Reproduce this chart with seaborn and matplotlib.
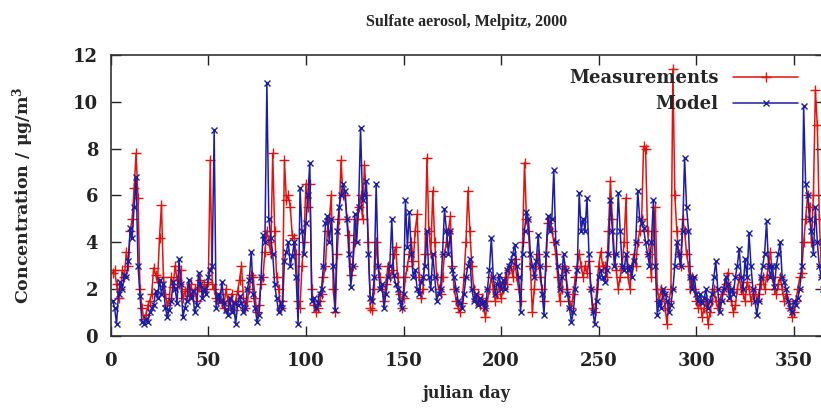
import numpy as np
import pandas as pd
import matplotlib
matplotlib.use("Agg")
import matplotlib.pyplot as plt
import seaborn as sns

days = list(range(1, 367))

measurements = [
    2.7, 2.8, 2.2, 1.6, 2.0, 2.8, 2.5, 3.6, 3.0, 4.5,
    5.0, 6.3, 7.8, 5.9, 2.0, 1.2, 0.7, 0.9, 1.3, 1.5,
    1.8, 2.9, 2.6, 2.3, 4.2, 5.6, 2.5, 1.8, 1.3, 1.6,
    2.5, 2.1, 3.0, 2.4, 2.2, 2.8, 1.6, 1.9, 2.0, 1.7,
    2.2, 1.8, 2.0, 1.5, 2.1, 2.4, 1.9, 2.2, 2.0, 2.3,
    7.5, 2.2, 2.0, 1.6, 1.5, 1.8, 1.4, 1.2, 2.0, 1.5,
    1.3, 1.8, 1.1, 1.5, 1.9, 2.4, 3.0, 1.6, 1.2, 1.5,
    2.0, 2.6, 2.5, 1.6, 1.0, 1.3, 2.2, 2.5, 3.6, 4.5,
    4.0, 3.5, 7.8, 4.5, 2.5, 2.0, 1.2, 1.5, 7.5, 5.8,
    6.0, 5.5, 4.3, 4.2, 3.5, 1.5, 1.2, 3.0, 4.0, 6.5,
    5.5, 6.5, 2.0, 1.3, 1.0, 1.2, 1.5, 1.8, 2.5, 3.0,
    4.5, 5.0, 6.0, 2.0, 1.0, 3.5, 5.0, 7.5, 6.0, 6.0,
    5.0, 4.3, 2.6, 3.0, 4.0, 5.0, 5.5, 6.0, 5.0, 7.3,
    6.0, 4.0, 1.2, 1.1, 2.0, 4.0, 3.0, 2.5, 2.0, 1.5,
    2.2, 3.0, 2.5, 2.8, 3.5, 3.8, 2.5, 1.8, 1.2, 1.6,
    2.5, 3.0, 3.5, 4.0, 3.2, 4.5, 5.2, 2.5, 1.6, 2.0,
    3.5, 7.6, 4.5, 3.5, 6.2, 4.0, 2.5, 2.0, 1.8, 2.5,
    3.5, 4.0, 4.5, 5.1, 3.0, 2.0, 1.5, 1.2, 1.0, 1.4,
    2.5, 4.0, 6.2, 4.5, 3.0, 2.0, 1.5, 1.8, 1.3, 1.6,
    1.2, 0.8, 1.5, 2.0, 2.5, 2.0, 1.5, 1.8, 2.2, 1.6,
    2.0, 2.5, 2.2, 2.8, 3.0, 2.5, 3.3, 2.5, 2.0, 1.5,
    4.0, 7.4, 5.0, 4.5, 3.0, 1.0, 2.0, 3.0, 3.5, 2.5,
    2.0, 1.5, 3.0, 4.8, 5.0, 4.5, 4.0, 3.5, 2.5, 1.5,
    2.0, 3.0, 2.8, 2.0, 1.5, 1.2, 1.8, 2.5, 3.0, 3.5,
    3.0, 2.5, 3.0, 2.7, 3.2, 2.0, 1.2, 1.0, 2.0, 3.0,
    3.6, 3.0, 3.0, 2.5, 4.5, 6.6, 5.0, 3.5, 2.8, 2.0,
    2.5, 3.0, 4.0, 5.9, 2.5, 2.0, 3.0, 3.5, 3.0, 4.0,
    4.5, 5.0, 8.1, 8.0, 4.5, 3.5, 2.5, 4.5, 5.5, 2.0,
    1.5, 2.0, 1.8, 1.2, 0.5, 1.5, 2.0, 11.4, 6.0, 4.5,
    3.5, 3.0, 5.0, 4.5, 3.5, 3.0, 2.0, 2.5, 2.0, 1.5,
    1.2, 1.5, 0.8, 1.2, 1.5, 0.5, 1.0, 1.5, 2.0, 1.5,
    1.2, 1.5, 1.8, 2.0, 2.2, 2.7, 2.0, 1.5, 1.0, 1.3,
    2.0, 2.5, 2.0, 1.8, 1.5, 2.3, 2.0, 1.5, 1.8, 2.0,
    1.5, 1.8, 2.2, 2.5, 2.0, 2.5, 3.0, 3.6, 2.5, 2.0,
    1.8, 2.2, 2.5, 2.0, 1.5, 1.8, 1.5, 1.2, 0.8, 1.0,
    1.5, 2.0, 2.5, 2.7, 4.0, 5.0, 6.0, 5.5, 4.0, 6.0,
    10.5, 9.0, 5.0, 3.0, 2.5, 2.0,
]

model = [
    1.5, 1.2, 0.5, 1.8, 2.3, 2.0, 2.6, 2.5, 3.2, 4.6,
    4.2, 5.5, 6.8, 3.0, 1.7, 0.6, 0.5, 0.7, 0.6, 1.0,
    1.2, 1.3, 1.9, 1.6, 2.4, 1.8, 2.2, 1.2, 0.8, 1.1,
    1.5, 2.3, 2.0, 1.4, 3.3, 2.2, 0.8, 1.2, 1.5, 2.4,
    1.6, 1.9, 1.0, 1.3, 2.7, 2.2, 1.6, 2.0, 1.8, 2.5,
    2.8, 3.0, 8.8, 1.2, 1.8, 1.5, 2.3, 1.4, 1.1, 0.9,
    1.6, 1.0, 1.4, 0.5, 1.3, 1.7, 1.4, 1.0, 1.2, 2.0,
    2.4, 3.6, 1.8, 1.2, 0.6, 0.9, 2.5, 4.3, 4.0, 10.8,
    5.0, 4.2, 3.5, 2.2, 1.6, 1.0, 1.4, 1.2, 3.2, 3.6,
    4.0, 3.0, 3.4, 4.0, 2.5, 0.5, 6.3, 4.5, 3.5, 4.8,
    6.0, 7.4, 1.5, 1.6, 1.2, 1.4, 1.8, 2.0, 3.0, 4.8,
    5.1, 4.0, 5.0, 3.0, 1.1, 4.5, 5.5, 6.0, 6.5, 6.2,
    5.0, 3.5, 2.1, 3.0, 5.2, 4.0, 5.5, 8.9, 5.8, 6.0,
    6.6, 3.5, 1.6, 1.5, 2.5, 6.5, 3.0, 2.0, 2.2, 1.2,
    1.8, 2.5, 3.0, 5.0, 2.6, 2.2, 2.0, 1.5, 1.2, 1.8,
    5.8, 3.8, 5.3, 3.5, 2.5, 2.8, 2.0, 1.8, 2.3, 2.5,
    3.0, 4.5, 2.5, 2.0, 3.5, 2.5, 1.5, 1.8, 2.0, 3.5,
    5.4, 4.5, 3.5, 4.5, 2.8, 2.5, 2.0, 1.5, 1.4, 1.2,
    1.8, 2.5, 3.0, 3.3, 2.0, 1.5, 1.8, 1.3, 1.6, 1.4,
    1.5, 1.2, 2.0, 2.8, 4.2, 2.5, 1.8, 2.2, 2.6, 2.0,
    2.4, 2.0, 2.8, 3.0, 3.2, 3.5, 3.9, 3.0, 2.5, 1.0,
    3.5, 4.5, 5.3, 5.0, 3.5, 3.0, 2.5, 3.2, 4.3, 3.0,
    1.8, 0.9, 3.5, 5.1, 4.5, 5.0, 7.1, 4.0, 3.0, 2.0,
    2.5, 3.5, 2.8, 1.8, 1.2, 0.6, 1.0, 2.0, 2.8, 6.1,
    4.5, 5.0, 4.5, 5.9, 3.5, 2.0, 1.0, 0.5, 1.5, 2.5,
    2.8, 2.5, 2.3, 2.8, 3.5, 5.8, 4.5, 3.0, 3.5, 6.1,
    4.5, 3.0, 2.8, 3.5, 2.8, 3.0, 2.5, 3.2, 4.0, 6.2,
    5.0, 4.8, 4.6, 4.0, 3.5, 3.0, 4.0, 5.8, 3.0, 0.9,
    1.5, 1.2, 2.0, 1.8, 1.5, 1.0, 1.3, 2.0, 3.0, 4.0,
    3.5, 3.0, 4.5, 7.6, 5.5, 4.5, 2.5, 2.0, 2.5, 1.8,
    1.5, 1.8, 1.4, 1.6, 2.0, 1.2, 1.5, 1.8, 2.5, 3.2,
    2.0, 1.0, 1.5, 2.0, 2.5, 2.2, 1.6, 2.0, 1.8, 2.5,
    3.0, 3.7, 2.5, 2.0, 3.3, 2.5, 4.4, 3.0, 2.0, 1.5,
    0.9, 1.5, 2.5, 3.0, 3.5, 4.9, 3.0, 2.5, 3.0, 2.1,
    3.0, 3.5, 4.0, 2.5, 2.3, 2.0, 1.5, 1.2, 1.0, 1.5,
    1.3, 1.6, 2.0, 3.0, 9.8, 6.5, 6.0, 5.0, 4.5, 3.5,
    5.5, 4.0, 3.0, 2.5, 2.0, 2.2,
]

x_ticks = [0, 50, 100, 150, 200, 250, 300, 350]
y_ticks = [0, 2, 4, 6, 8, 10, 12]

RED = "#e3120b"
BLUE = "#1c1ca6"
WIDE = ["DejaVu Serif"]
NARROW = ["Liberation Serif", "DejaVu Serif"]

sns.set_style("ticks")
plt.rcParams["font.family"] = WIDE
plt.rcParams["font.weight"] = "bold"
plt.rcParams["mathtext.fontset"] = "custom"
plt.rcParams["mathtext.rm"] = "DejaVu Serif:bold"
plt.rcParams["mathtext.it"] = "DejaVu Serif:bold"
plt.rcParams["mathtext.bf"] = "DejaVu Serif:bold"

df = pd.DataFrame({"day": days, "Measurements": measurements, "Model": model})

fig = plt.figure(figsize=(8.21, 4.08), dpi=100)
W, H = 821, 408
x0, x1 = 110.7, 110.7 + 366 * 1.952
y_top, y_bot = 55.0, 335.8
ax = fig.add_axes([x0 / W, (H - y_bot) / H, (x1 - x0) / W, (y_bot - y_top) / H])

sns.lineplot(data=df, x="day", y="Measurements", ax=ax, color=RED, lw=1.1,
             marker="+", markersize=7, markeredgewidth=1.0, markeredgecolor=RED,
             label="Measurements", estimator=None)
sns.lineplot(data=df, x="day", y="Model", ax=ax, color=BLUE, lw=1.1,
             marker="x", markersize=5, markeredgewidth=1.0, markeredgecolor=BLUE,
             label="Model", estimator=None)

ax.set_xlim(0, 366)
ax.set_ylim(0, 12)
ax.set_xticks(x_ticks)
ax.set_yticks(y_ticks)
ax.tick_params(axis="both", direction="in", length=7, width=1.0, top=True,
               right=True, labelsize=13, colors="#222222")
ax.tick_params(axis="x", pad=12)
ax.tick_params(axis="y", pad=9)
for s in ax.spines.values():
    s.set_linewidth(1.2)
    s.set_color("#333333")

ax.set_xlabel("julian day", fontsize=11.5, fontweight="bold")
ax.set_ylabel("Concentration / μg/m$^3$", fontsize=12.5, fontweight="bold")
ax.xaxis.set_label_coords((466 - x0) / (x1 - x0), -(385 - y_bot) / (y_bot - y_top))
ax.yaxis.set_label_coords(-(x0 - 36) / (x1 - x0), 0.5)

fig.text(467 / W, 1 - 22 / H, "Sulfate aerosol, Melpitz, 2000", ha="center",
         va="center", fontsize=11.5, fontweight="bold", family=NARROW)

leg = ax.legend(loc="upper right", bbox_to_anchor=(798 / W, 1 - 69 / H),
                bbox_transform=fig.transFigure, frameon=False, markerfirst=False,
                handlelength=3.6, handletextpad=0.8, labelspacing=0.45,
                borderpad=0, fontsize=13, borderaxespad=0)
for t in leg.get_texts():
    t.set_fontweight("bold")

fig.savefig("out.png", dpi=100)
